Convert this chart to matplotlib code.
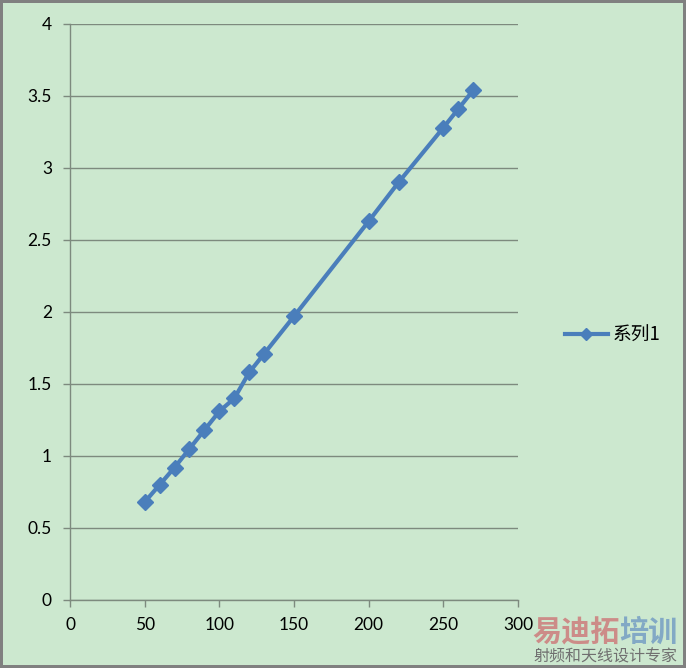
import matplotlib
matplotlib.use("Agg")
import numpy as np
from matplotlib import pyplot as plt

plt.rcParams['font.family'] = ['Lato', 'Noto Sans CJK SC', 'DejaVu Sans']

# values
x_vals = [50, 60, 70, 80, 90, 100, 110, 120, 130, 150, 200, 220, 250, 260, 270]
y_vals = [0.68, 0.80, 0.92, 1.05, 1.18, 1.31, 1.40, 1.58, 1.71, 1.97,
          2.63, 2.90, 3.28, 3.41, 3.54]
series_name = '系列1'
x_ticks = [0, 50, 100, 150, 200, 250, 300]
y_ticks = [0, 0.5, 1, 1.5, 2, 2.5, 3, 3.5, 4]
y_labels = ['0', '0.5', '1', '1.5', '2', '2.5', '3', '3.5', '4']

bg = '#cce8cf'
blue = '#4a7ebb'
grey = '#7d8a7e'

fig = plt.figure(figsize=(6.86, 6.68), dpi=100, facecolor=bg,
                 edgecolor='#808080', linewidth=3)
ax = fig.add_axes([70/686, 68/668, 448/686, 576/668])
ax.set_facecolor(bg)

line, = ax.plot(x_vals, y_vals, color=blue, linewidth=3, marker='D',
                markersize=8, markerfacecolor=blue, markeredgecolor=blue,
                label=series_name, zorder=3)

ax.set_xlim(0, 300)
ax.set_ylim(0, 4)
ax.set_xticks(x_ticks)
ax.set_yticks(y_ticks)
ax.set_yticklabels(y_labels)
ax.grid(axis='y', color=grey, linewidth=1)
ax.set_axisbelow(True)

for s in ['top', 'right']:
    ax.spines[s].set_visible(False)
for s in ['left', 'bottom']:
    ax.spines[s].set_color(grey)
    ax.spines[s].set_linewidth(1)

ax.tick_params(axis='both', direction='out', length=5, width=1, color=grey,
               labelsize=12.5, labelcolor='black')
ax.tick_params(axis='x', pad=7)
ax.tick_params(axis='y', pad=8)

leg = fig.legend(handles=[line], loc='center left',
                 bbox_to_anchor=(548/686, 1 - 335/668), frameon=False,
                 handlelength=2.3, handletextpad=0.25, markerscale=0.8,
                 prop={'family': ['Noto Sans CJK SC', 'DejaVu Sans'], 'size': 13.5})

# watermark in the corner
fig.text(532/686, 1 - 632/668, '易迪拓', color='#cc7c7c', alpha=0.85,
         fontsize=21, fontweight='bold', va='center', ha='left',
         family=['Noto Sans CJK SC'])
fig.text(619/686, 1 - 632/668, '培训', color='#7aa2c4', alpha=0.9,
         fontsize=21, fontweight='bold', va='center', ha='left',
         family=['Noto Sans CJK SC'])
fig.text(533/686, 1 - 657/668, '射频和天线设计专家', color='#707070',
         fontsize=11.5, va='center', ha='left',
         family=['Noto Sans CJK SC'])

plt.savefig('out.png', dpi=100, facecolor=bg, edgecolor='#808080')
